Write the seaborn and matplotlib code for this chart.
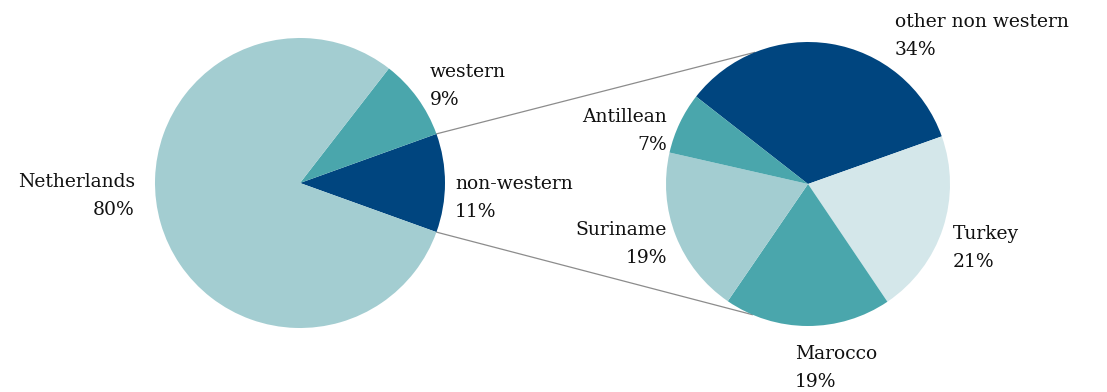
import numpy as np
import matplotlib
matplotlib.use("Agg")
import matplotlib.pyplot as plt
import seaborn as sns

# ---- data ----
main_labels = ["non-western", "western", "Netherlands"]
main_values = [11, 9, 80]
sub_labels = ["other non western", "Turkey", "Marocco", "Suriname", "Antillean"]
sub_values = [34, 21, 19, 19, 7]

# ---- style ----
sns.set_theme(style="white")
plt.rcParams["font.family"] = ["DejaVu Serif", "DejaVu Sans"]

DARK = "#00457f"
TEAL = "#4aa6ac"
LIGHT = "#a3cdd1"
PALE = "#d4e7ea"
main_colors = [DARK, TEAL, LIGHT]
sub_colors = [DARK, PALE, TEAL, LIGHT, TEAL]

W, H = 1107, 392
fig = plt.figure(figsize=(W / 100, H / 100), dpi=100)
ax = fig.add_axes([0, 0, 1, 1])

def py(y):
    return H - y

c1 = (300, py(183)); r1 = 145
c2 = (808, py(184)); r2 = 142

nw_share = main_values[0] / sum(main_values)
start1 = -180 * nw_share
w1, _ = ax.pie(main_values, colors=main_colors, startangle=start1,
               counterclock=True, center=c1, radius=r1,
               wedgeprops=dict(linewidth=0))
w2, _ = ax.pie(sub_values, colors=sub_colors, startangle=142,
               counterclock=False, center=c2, radius=r2,
               wedgeprops=dict(linewidth=0))

ax.set_xlim(0, W)
ax.set_ylim(0, H)
ax.set_aspect("equal")
ax.axis("off")

# connector lines from the non-western wedge edges to the sub pie
t_lo, t_hi = w1[0].theta1, w1[0].theta2
p_hi = (c1[0] + r1 * np.cos(np.radians(t_hi)), c1[1] + r1 * np.sin(np.radians(t_hi)))
p_lo = (c1[0] + r1 * np.cos(np.radians(t_lo)), c1[1] + r1 * np.sin(np.radians(t_lo)))
q_hi = (c2[0] + r2 * np.cos(np.radians(112)), c2[1] + r2 * np.sin(np.radians(112)))
q_lo = (c2[0] + r2 * np.cos(np.radians(-113)), c2[1] + r2 * np.sin(np.radians(-113)))
for p, q in ((p_hi, q_hi), (p_lo, q_lo)):
    ax.plot([p[0], q[0]], [p[1], q[1]], color="#8c8c8c", lw=0.9, zorder=0)

fs = 13.5
ls = 1.66
def pct(v, vals):
    return f"{round(100 * v / sum(vals))}%"

main_pos = {"non-western": (455, 198, "left"), "western": (430, 86, "left"),
            "Netherlands": (135, 196, "right")}
for lab, v in zip(main_labels, main_values):
    x, y, ha = main_pos[lab]
    ax.text(x, py(y), f"{lab}\n{pct(v, main_values)}", ha=ha, va="center",
            multialignment=ha, fontsize=fs, linespacing=ls, color="#111111")

sub_pos = {"other non western": (895, 36, "left"), "Turkey": (953, 248, "left"),
           "Marocco": (795, 368, "left"), "Suriname": (667, 244, "right"),
           "Antillean": (667, 131, "right")}
for lab, v in zip(sub_labels, sub_values):
    x, y, ha = sub_pos[lab]
    ax.text(x, py(y), f"{lab}\n{pct(v, sub_values)}", ha=ha, va="center",
            multialignment=ha, fontsize=fs, linespacing=ls, color="#111111")

fig.savefig("out.png", dpi=100)
